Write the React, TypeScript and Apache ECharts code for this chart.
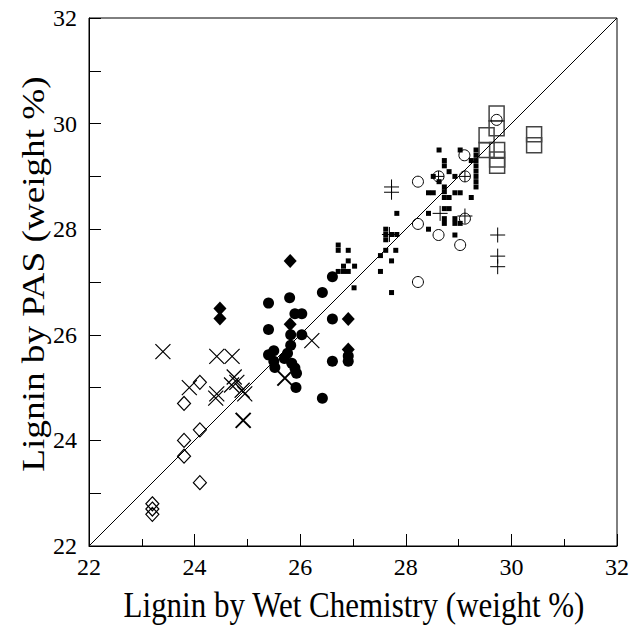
import React, { useEffect, useRef } from "react";
import * as echarts from "echarts";

type P = [number, number];

const xTitle = "Lignin by Wet Chemistry (weight %)";
const yTitle = "Lignin by PAS (weight %)";

const openDiamonds: P[] = [
  [23.2, 22.8], [23.2, 22.7], [23.2, 22.6], [23.8, 24.7], [24.1, 25.1],
  [23.8, 24.0], [24.1, 24.2], [23.8, 23.7], [24.1, 23.2],
];

const crosses: P[] = [
  [23.4, 25.68], [23.9, 25.0], [24.42, 25.59], [24.71, 25.59], [24.42, 24.88],
  [24.4, 24.8], [24.75, 25.2], [24.8, 25.1], [24.7, 25.05], [24.9, 24.95],
  [24.95, 24.88], [26.22, 25.89],
];

const boldCrosses: P[] = [
  [24.92, 24.38], [25.71, 25.18],
];

const filledCircles: P[] = [
  [25.4, 26.6], [25.8, 26.7], [25.9, 26.4], [26.03, 26.4], [25.4, 26.1],
  [25.82, 26.0], [26.03, 26.0], [25.82, 25.8], [25.5, 25.7], [25.4, 25.62],
  [25.76, 25.65], [25.7, 25.55], [25.5, 25.5], [25.52, 25.38], [25.84, 25.46],
  [25.9, 25.37], [25.93, 25.27], [25.92, 25.0], [26.42, 24.8], [26.61, 26.3],
  [26.42, 26.8], [26.61, 27.1], [26.61, 25.5], [26.91, 25.5], [26.91, 25.6],
];

const filledDiamonds: P[] = [
  [24.48, 26.5], [24.48, 26.31], [25.81, 27.4], [25.81, 26.2], [26.91, 26.3],
  [26.91, 25.72],
];

const smallSquares: P[] = [
  [26.72, 27.7], [26.72, 27.6], [26.91, 27.6], [26.91, 27.4], [26.82, 27.3],
  [27.03, 27.3], [26.72, 27.2], [26.82, 27.2], [26.91, 27.2], [27.02, 26.89],
  [27.52, 27.5], [27.62, 27.6], [27.81, 27.6], [27.73, 27.4], [27.52, 27.2],
  [27.73, 26.8], [27.83, 28.3], [27.62, 28.0], [27.62, 27.9], [27.62, 27.8],
  [27.73, 27.9], [27.83, 27.9],
  [28.63, 29.5], [29.03, 29.5], [28.73, 29.3], [28.73, 29.2], [28.82, 29.09],
  [28.93, 29.0], [28.52, 29.0], [28.63, 28.9], [28.73, 28.8], [28.73, 28.71],
  [28.73, 28.6], [28.43, 28.69], [28.52, 28.69], [28.93, 28.69], [29.03, 28.69],
  [28.82, 28.6], [29.24, 28.6], [28.73, 28.39], [28.82, 28.39], [28.43, 28.3],
  [28.73, 28.2], [28.73, 28.11], [28.93, 28.2], [28.93, 28.11], [29.03, 28.11],
  [28.43, 28.0], [28.93, 27.89], [29.24, 29.3],
  [29.33, 29.5], [29.33, 29.4], [29.33, 29.3], [29.33, 29.2], [29.33, 29.1],
  [29.33, 29.0], [29.33, 28.9], [29.33, 28.8],
];

const openCircles: P[] = [
  [29.11, 29.4], [28.23, 28.9], [28.62, 29.0], [29.12, 29.0], [28.23, 28.1],
  [28.62, 27.89], [29.03, 27.7], [29.12, 28.2], [28.23, 27.0], [29.72, 30.07],
];

const pluses: P[] = [
  [27.73, 28.8], [27.73, 28.7], [27.69, 27.9], [28.65, 28.3], [29.12, 28.25],
  [29.74, 27.89], [29.74, 27.49], [29.74, 27.29],
];

const smallPluses: P[] = [
  [28.62, 29.0], [29.12, 29.0],
];

const openSquares: P[] = [
  [29.72, 30.19], [29.72, 29.91], [29.53, 29.78], [29.53, 29.5], [29.73, 29.5],
  [29.73, 29.32], [29.73, 29.2], [30.43, 29.8], [30.43, 29.59],
];

const identityLine: P[] = [[22, 22], [32, 32]];

const FONT = "'Liberation Serif', 'Times New Roman', Times, serif";
const CROSS = "path://M0,0L10,10M10,0L0,10";
const PLUS = "path://M5,0L5,10M0,5L10,5";

export default function App() {
  const ref = useRef<HTMLDivElement>(null);
  useEffect(() => {
    if (!ref.current) return;
    const chart = echarts.init(ref.current, undefined, { renderer: "svg" });
    const stroke = (w: number, c = "#000") => ({
      color: "none", borderColor: c, borderWidth: w, opacity: 1,
    });
    const fill = { color: "#000", opacity: 1 };
    chart.setOption({
      animation: false,
      backgroundColor: "#fff",
      textStyle: { fontFamily: FONT },
      grid: {
        left: 89, top: 18, width: 528, height: 528,
        show: true, borderColor: "#000", borderWidth: 1, backgroundColor: "transparent",
      },
      graphic: [
        {
          type: "text", x: 354, y: 605, scaleY: 1.13, z: 10,
          style: {
            text: xTitle, font: `31px ${FONT}`, fill: "#000",
            textAlign: "center", textVerticalAlign: "middle",
          },
        },
        {
          type: "text", x: 33, y: 274, rotation: Math.PI / 2, scaleX: 1.2, z: 10,
          style: {
            text: yTitle, font: `31px ${FONT}`, fill: "#000",
            textAlign: "center", textVerticalAlign: "middle",
          },
        },
      ],
      xAxis: {
        type: "value", min: 22, max: 32, interval: 2,
        axisLine: { lineStyle: { color: "#000", width: 1 } },
        axisTick: { inside: true, length: 12, lineStyle: { color: "#000" } },
        minorTick: { show: true, splitNumber: 2, length: 7, lineStyle: { color: "#000" } },
        axisLabel: { fontFamily: FONT, fontSize: 24, color: "#000", margin: 9 },
        splitLine: { show: false },
        minorSplitLine: { show: false },
      },
      yAxis: {
        type: "value", min: 22, max: 32, interval: 2,
        axisLine: { lineStyle: { color: "#000", width: 1 } },
        axisTick: { inside: true, length: 12, lineStyle: { color: "#000" } },
        minorTick: { show: true, splitNumber: 2, length: 12, lineStyle: { color: "#000" } },
        axisLabel: { fontFamily: FONT, fontSize: 24, color: "#000", margin: 12 },
        splitLine: { show: false },
        minorSplitLine: { show: false },
      },
      series: [
        {
          type: "line", data: identityLine, symbol: "none",
          lineStyle: { color: "#000", width: 1 }, silent: true,
        },
        {
          type: "scatter", data: openSquares, symbol: "rect", symbolSize: 15,
          itemStyle: stroke(1.5, "#444"),
        },
        {
          type: "scatter", data: openDiamonds, symbol: "diamond", symbolSize: [13, 14],
          itemStyle: stroke(1.2),
        },
        {
          type: "scatter", data: crosses, symbol: CROSS, symbolSize: 15,
          itemStyle: stroke(1.2),
        },
        {
          type: "scatter", data: boldCrosses, symbol: CROSS, symbolSize: 15,
          itemStyle: stroke(2),
        },
        {
          type: "scatter", data: filledCircles, symbol: "circle", symbolSize: 11,
          itemStyle: fill,
        },
        {
          type: "scatter", data: filledDiamonds, symbol: "diamond", symbolSize: [13, 14],
          itemStyle: fill,
        },
        {
          type: "scatter", data: smallSquares, symbol: "rect", symbolSize: 5,
          itemStyle: fill,
        },
        {
          type: "scatter", data: openCircles, symbol: "circle", symbolSize: 11,
          itemStyle: stroke(1),
        },
        {
          type: "scatter", data: pluses, symbol: PLUS, symbolSize: 15,
          itemStyle: stroke(1),
        },
        {
          type: "scatter", data: smallPluses, symbol: PLUS, symbolSize: 11,
          itemStyle: stroke(1),
        },
      ],
    });
    return () => chart.dispose();
  }, []);
  return (
    <div
      ref={ref}
      style={{ position: "fixed", left: 0, top: 0, width: 632, height: 625, background: "#fff" }}
    />
  );
}
